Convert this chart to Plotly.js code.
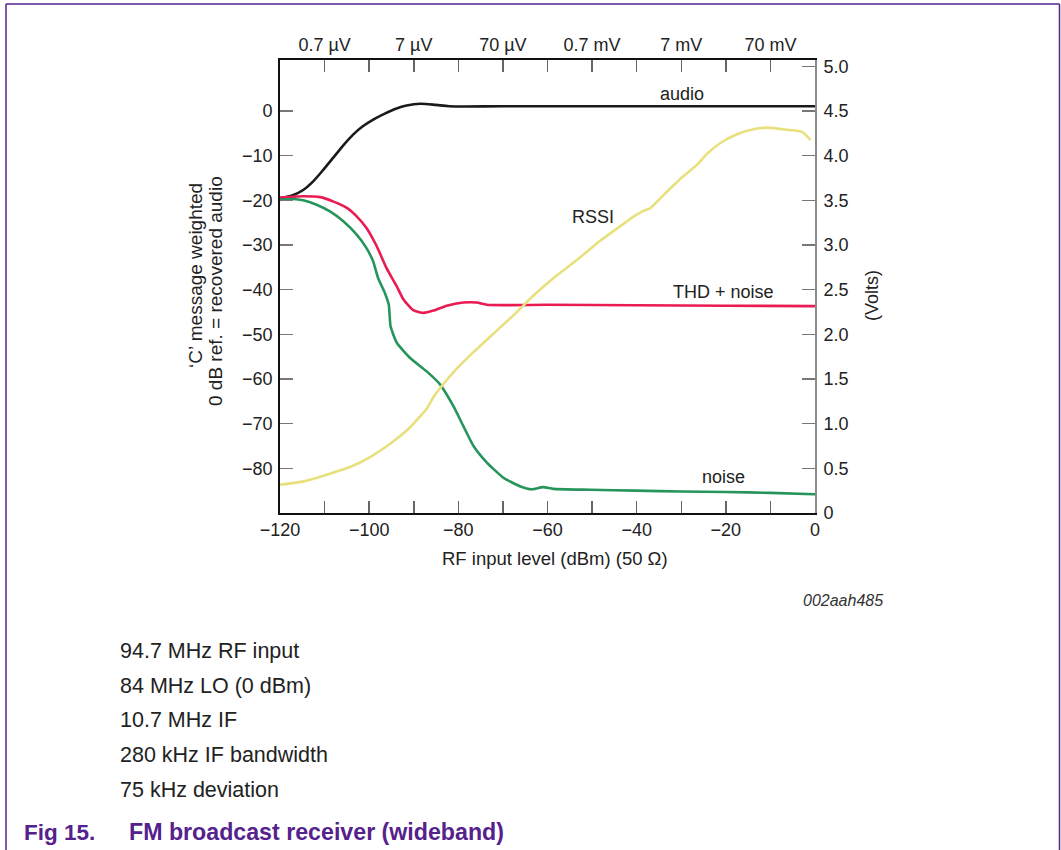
<!DOCTYPE html>
<html>
<head>
<meta charset="utf-8">
<script src="https://cdn.plot.ly/plotly-3.0.1.min.js"></script>
<style>
html,body{margin:0;padding:0;background:#fff;}
#chart{width:1061px;height:850px;}
</style>
</head>
<body>
<div id="chart"></div>
<script>
// ---- data ----
const audioX = [-120, -117, -114.8, -112.5, -110.3, -108, -105.8, -103.6, -101.5, -99, -96.5, -94, -91.6, -88.5, -85, -82, -70, -50, -30, -10, 0];
const audioY = [-19.55, -18.8, -17.7, -15.7, -13.2, -10.4, -7.7, -5.3, -3.5, -1.9, -0.6, 0.5, 1.2, 1.6, 1.35, 1.05, 1.05, 1.05, 1.05, 1.05, 1.05];

const thdX = [-120, -117, -114.8, -111, -108, -105, -102.8, -100.6, -98.3, -96.1, -93.8, -92.3, -90.1, -87.8, -85.6, -82.6, -78.9, -75.9, -73.6, -60, -40, -20, 0];
const thdY = [-19.4, -19.2, -19.1, -19.3, -20.3, -21.7, -23.6, -26.2, -30.3, -35.2, -39.3, -42.2, -44.6, -45.2, -44.7, -43.6, -42.9, -42.9, -43.4, -43.4, -43.5, -43.6, -43.7];

const noiseX = [-120, -117, -114.8, -111.8, -108.8, -105.8, -102.8, -100.6, -99.1, -98, -96.5, -95.6, -95.2, -93.8, -90.8, -87.1, -84.1, -81.1, -78.9, -76.6, -73.6, -69.9, -66.2, -63.6, -61.0, -58.7, -50.5, -40, -30, -20, -10, 0];
const noiseY = [-19.9, -19.7, -20.0, -21.0, -22.5, -24.7, -27.7, -30.7, -33.7, -37.4, -40.7, -43.4, -48.2, -51.9, -55.3, -58.3, -61.2, -66.1, -70.5, -75.0, -78.7, -82.1, -84.0, -84.7, -84.2, -84.6, -84.8, -85.0, -85.2, -85.3, -85.5, -85.8];

const rssiX = [-120, -114.7, -108.8, -104.3, -99.8, -95.3, -90.8, -87.1, -85.6, -83.3, -80.4, -76.6, -72.2, -67.7, -63.2, -58.0, -52.7, -48.2, -44.5, -40.8, -38.1, -37.0, -34.0, -30.3, -26.5, -24.3, -21.3, -17.5, -13.8, -10.8, -6.3, -2.9, -1.0];
const rssiV = [0.316, 0.354, 0.44, 0.514, 0.626, 0.775, 0.96, 1.166, 1.296, 1.446, 1.613, 1.80, 2.004, 2.209, 2.432, 2.656, 2.86, 3.047, 3.18, 3.315, 3.39, 3.41, 3.557, 3.736, 3.896, 4.016, 4.138, 4.239, 4.295, 4.313, 4.29, 4.265, 4.175];

const bottomTickVals = [-120, -110, -100, -90, -80, -70, -60, -50, -40, -30, -20, -10, 0];
const bottomTickText = ['\u2212120', '', '\u2212100', '', '\u221280', '', '\u221260', '', '\u221240', '', '\u221220', '', '0'];
const topTickVals = [-110, -100, -90, -80, -70, -60, -50, -40, -30, -20, -10];
const topTickText = ['0.7 \u00b5V', '', '7 \u00b5V', '', '70 \u00b5V', '', '0.7 mV', '', '7 mV', '', '70 mV'];
const leftTickVals = [0, -10, -20, -30, -40, -50, -60, -70, -80];
const leftTickText = ['0', '\u221210', '\u221220', '\u221230', '\u221240', '\u221250', '\u221260', '\u221270', '\u221280'];
const rightTickVals = [0, 0.5, 1.0, 1.5, 2.0, 2.5, 3.0, 3.5, 4.0, 4.5, 5.0];
const rightTickText = ['0', '0.5', '1.0', '1.5', '2.0', '2.5', '3.0', '3.5', '4.0', '4.5', '5.0'];

const conditions = ['94.7 MHz RF input', '84 MHz LO (0 dBm)', '10.7 MHz IF', '280 kHz IF bandwidth', '75 kHz deviation'];

// ---- layout geometry ----
const W = 1061, H = 850;
const L = 280, R = 815, T = 60, B = 513;
const px = x => (x - L) / (R - L);
const py = y => (B - y) / (B - T);

const FONT = 'Arial, "Liberation Sans", Helvetica, sans-serif';
const TXT = '#222';
const PURPLE = '#55218c';

const traces = [
  {x: audioX, y: audioY, mode: 'lines', name: 'audio', line: {color: '#1a1a1a', width: 2.6, shape: 'spline', smoothing: 0.8}, xaxis: 'x', yaxis: 'y'},
  {x: thdX, y: thdY, mode: 'lines', name: 'THD + noise', line: {color: '#ea1a52', width: 2.6, shape: 'spline', smoothing: 0.6}, xaxis: 'x', yaxis: 'y'},
  {x: noiseX, y: noiseY, mode: 'lines', name: 'noise', line: {color: '#26955b', width: 2.6, shape: 'spline', smoothing: 0.5}, xaxis: 'x', yaxis: 'y'},
  {x: rssiX, y: rssiV, mode: 'lines', name: 'RSSI', line: {color: '#e8e07c', width: 2.6, shape: 'spline', smoothing: 0.5}, xaxis: 'x2', yaxis: 'y2'}
];

const tickFont = {family: FONT, size: 18, color: TXT};

const ann = [];
function addText(text, x, y, opts) {
  ann.push(Object.assign({text: text, xref: 'paper', yref: 'paper', x: px(x), y: py(y),
    showarrow: false, xanchor: 'center', yanchor: 'middle',
    font: {family: FONT, size: 18, color: TXT}}, opts || {}));
}
// axis titles
addText('\u2018C\u2019 message weighted', 195, 276, {textangle: -90, font: {family: FONT, size: 19, color: TXT}});
addText('0 dB ref. = recovered audio', 215, 291, {textangle: -90, font: {family: FONT, size: 19, color: TXT}});
addText('(Volts)', 872, 296, {textangle: -90});
addText('RF input level (dBm) (50 \u03a9)', 555, 558, {font: {family: FONT, size: 18.5, color: TXT}});
// curve labels
addText('audio', 682, 94);
addText('RSSI', 593, 217);
addText('THD + noise', 723, 292);
addText('noise', 723, 477);
addText('<i>002aah485</i>', 843, 600, {font: {family: FONT, size: 16, color: '#333'}});
// conditions
const condY = [651, 686, 720, 755, 790];
conditions.forEach((c, i) => addText(c, 118, condY[i], {xanchor: 'left', font: {family: FONT, size: 21.5, color: TXT}}));
// figure caption
addText('<b>Fig 15.</b>', 22, 832, {xanchor: 'left', font: {family: FONT, size: 22.5, color: PURPLE}});
addText('<b>FM broadcast receiver (wideband)</b>', 127, 832, {xanchor: 'left', font: {family: FONT, size: 23.2, color: PURPLE}});

const shapes = [
  {type: 'line', xref: 'paper', yref: 'paper', x0: px(6), x1: px(6), y0: py(4), y1: py(860), line: {color: PURPLE, width: 1.5}},
  {type: 'line', xref: 'paper', yref: 'paper', x0: px(6), x1: px(1059.5), y0: py(4), y1: py(4), line: {color: PURPLE, width: 1.5}},
  {type: 'line', xref: 'paper', yref: 'paper', x0: px(1059.5), x1: px(1059.5), y0: py(4), y1: py(860), line: {color: PURPLE, width: 1.5}}
];

const layout = {
  width: W, height: H,
  margin: {l: L, r: W - R, t: T, b: H - B, pad: 0},
  paper_bgcolor: '#fff', plot_bgcolor: '#fff',
  showlegend: false,
  font: {family: FONT, size: 18, color: TXT},
  xaxis: {
    range: [-120, 0], tickmode: 'array', tickvals: bottomTickVals, ticktext: bottomTickText,
    ticks: 'inside', ticklen: 12, tickwidth: 1.5, tickcolor: '#666',
    showline: true, linecolor: '#111', linewidth: 1.8, mirror: false,
    showgrid: false, zeroline: false, tickfont: tickFont, ticklabelstandoff: 0, fixedrange: true
  },
  xaxis2: {
    range: [-120, 0], overlaying: 'x', side: 'top', anchor: 'y2',
    tickmode: 'array', tickvals: topTickVals, ticktext: topTickText,
    ticks: 'inside', ticklen: 12, tickwidth: 1.5, tickcolor: '#666',
    showline: true, linecolor: '#111', linewidth: 2.2,
    showgrid: false, zeroline: false, tickfont: tickFont, ticklabelstandoff: 0, fixedrange: true
  },
  yaxis: {
    range: [-90, 11.4], tickmode: 'array', tickvals: leftTickVals, ticktext: leftTickText,
    ticks: 'inside', ticklen: 13, tickwidth: 1.5, tickcolor: '#777',
    showline: true, linecolor: '#111', linewidth: 1.8,
    showgrid: false, zeroline: false, tickfont: tickFont, ticklabelstandoff: 2, fixedrange: true
  },
  yaxis2: {
    range: [0, 5.07], overlaying: 'y', side: 'right', anchor: 'x2',
    tickmode: 'array', tickvals: rightTickVals, ticktext: rightTickText,
    ticks: 'inside', ticklen: 13, tickwidth: 1.5, tickcolor: '#777',
    showline: true, linecolor: '#8a8a8a', linewidth: 1.8,
    showgrid: false, zeroline: false, tickfont: tickFont, ticklabelstandoff: 3, fixedrange: true
  },
  annotations: ann,
  shapes: shapes
};

Plotly.newPlot('chart', traces, layout, {staticPlot: true, displayModeBar: false});
</script>
</body>
</html>
